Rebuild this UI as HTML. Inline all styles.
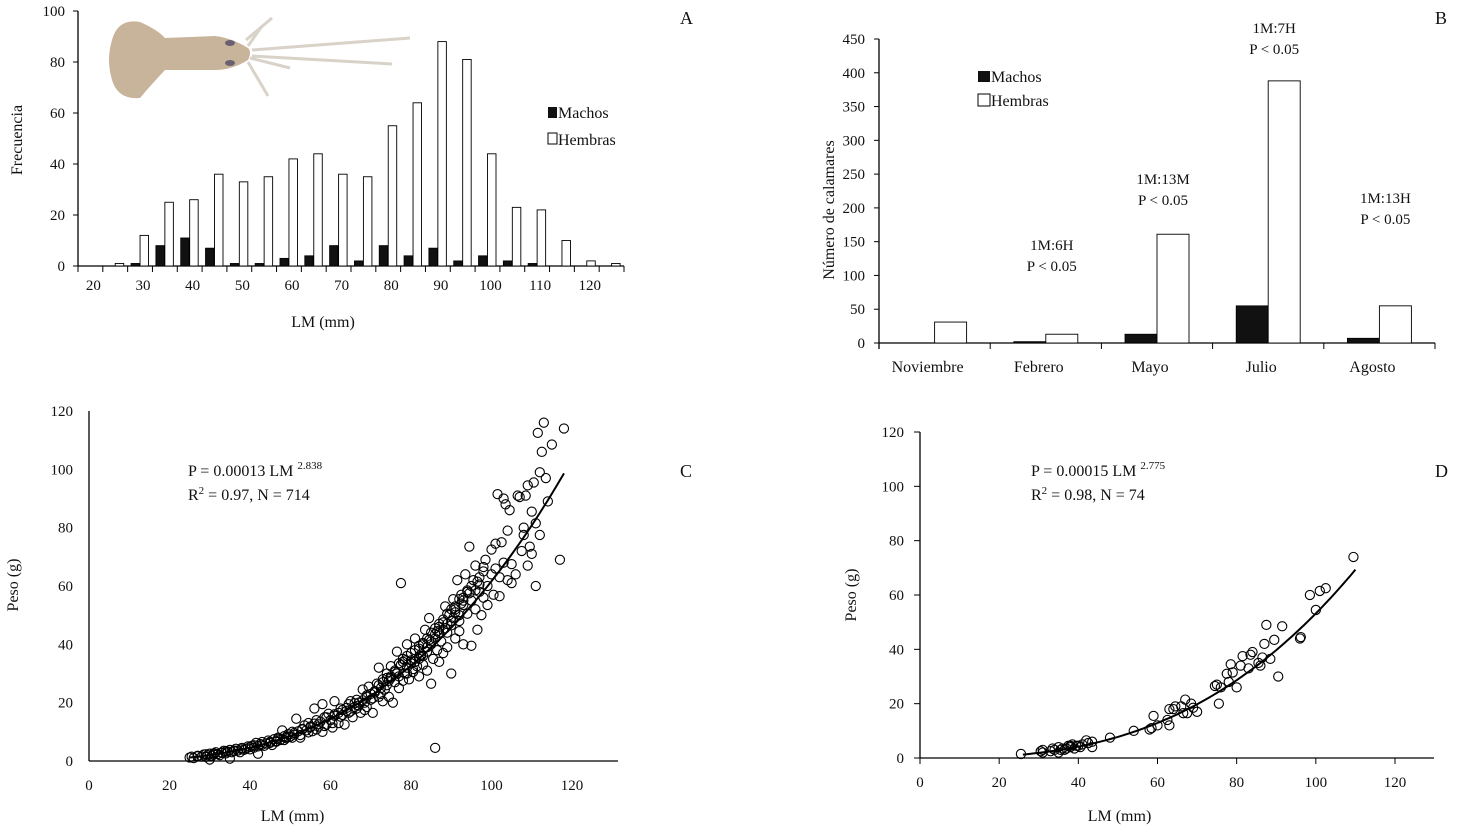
<!DOCTYPE html>
<html><head><meta charset="utf-8"><style>
html,body{margin:0;padding:0;background:#fff;}
svg{display:block;font-family:"Liberation Serif",serif;}
text{fill:#111;}
</style></head><body>
<svg id="fig" width="1462" height="836" viewBox="0 0 1462 836" xmlns="http://www.w3.org/2000/svg">
<g id="pA"></g>
<g id="pB"></g>
<g id="pC"></g>
<g id="pD"></g>
<g>
 <path d="M246,40 L272,18 M248,46 L262,26 M250,58 L290,68 M248,62 L268,96 M252,50 L410,38 M252,56 L392,64" stroke="#d9d2c8" stroke-width="3" fill="none"/>
 <path d="M112,40 Q118,18 140,22 Q158,30 165,38 L215,36 Q232,38 248,48 Q252,52 248,60 Q232,70 215,70 L165,70 Q150,86 140,98 Q118,100 112,80 Q106,60 112,40 Z" fill="#c8b39b"/>
 <ellipse cx="230" cy="43" rx="5" ry="3" fill="#6a6070"/>
 <ellipse cx="230" cy="63" rx="5" ry="3" fill="#6a6070"/>
</g>
</svg>
<script>
const NS='http://www.w3.org/2000/svg';
function el(parent,tag,attrs,txt){const e=document.createElementNS(NS,tag);for(const k in attrs)e.setAttribute(k,attrs[k]);if(txt!==undefined)e.textContent=txt;parent.appendChild(e);return e;}

// ---------- Panel A data ----------
const binsA=[20,25,30,35,40,45,50,55,60,65,70,75,80,85,90,95,100,105,110,115,120,125];
const machosA=[0,0,1,8,11,7,1,1,3,4,8,2,8,4,7,2,4,2,1,0,0,0];
const hembrasA=[0,1,12,25,26,36,33,35,42,44,36,35,55,64,88,81,44,23,22,10,2,1];
const yTicksA=[0,20,40,60,80,100];
const xLabelsA=[20,30,40,50,60,70,80,90,100,110,120];

// ---------- Panel B data ----------
const mesesB=['Noviembre','Febrero','Mayo','Julio','Agosto'];
const machosB=[0,2,13,55,7];
const hembrasB=[31,13,161,388,55];
const yTicksB=[0,50,100,150,200,250,300,350,400,450];
const notesB=[null,['1M:6H','P < 0.05'],['1M:13M','P < 0.05'],['1M:7H','P < 0.05'],['1M:13H','P < 0.05']];
const noteYB=[0,250,184,33,203];

// ---------- Panel C data ----------
const lmC=[25,25.5,26,27,28,28.5,29,29.5,30,30,30.5,31,31.5,32,32.5,33,33.5,34,34.5,35,35,35.5,36,36.5,37,37.5,38,38.5,39,39.5,40,40.5,41,41.5,42,42,42.5,43,43.5,44,44.5,45,45.5,46,46.5,47,47.5,48,48.5,49,49.5,50,50.5,51,51.5,52,52.5,53,53.5,54,54.5,55,55.5,56,56,56.5,57,57.5,58,58,58.5,59,59.5,60,60.5,61,61,62,62,62.5,63,63.5,64,64.5,65,65,65.5,66,66.5,67,67.5,68,68,68.5,69,69,69.5,70,70.5,71,71.5,72,72,72.5,73,73,73.5,74,74,74.5,75,75,75.5,76,76,76.5,77,77,77.5,77.5,78,78,78.5,79,79,79.5,80,80,80.5,81,81,81.5,82,82,82.5,83,83,83.5,84,84,84.5,85,85,85.5,86,86,86.5,87,87,87.5,88,88,88.5,89,89,89.5,90,90,90.5,91,91,91.5,92,92,92.5,93,93,93.5,94,94,94.5,95,95,95.5,96,96,96.5,97,97,97.5,98,98,98.5,99,99,100,100,100.5,101,101,101.5,102,102,102.5,103,103,103.5,104,104,104.5,105,105,106,106.5,107,107.5,108,108,108.5,109,109,109.5,110,110,110.5,111,111,111.5,112,112,112.5,113,113.5,114,115,117,118,
 82,84,86,88,90,92,83,85,87,89,91,93,79,81,
 27,29,31,33,34,36,38,40,41,43,45,47,49,51,53,55,57,59,61,63,64,66,67,69,70,71,72,73,74,75,76,77,78,79,80,81,82,83,84,85,86,87,88,89,90,91,92,93,94,95,96,97,98,80.5,82.5,84.5,86.5,88.5,90.5,92.5,94.5,96.5,76.5,78.5,74.5,72.5,70.5,68.5,66.5,64.5,62.5,60.5,58.5,56.5,54.5,52.5,50.5,48.5,46.5];
const pesoC=[1.2,1.5,1.0,1.8,1.5,2.2,1.4,2.0,0.5,2.5,1.8,2.2,3.0,2.4,2.0,2.8,3.5,2.6,3.2,0.8,3.8,3.0,3.4,4.2,3.6,3.0,4.5,3.8,4.2,5.0,4.0,5.2,4.6,6.2,5.0,2.5,5.8,6.5,5.2,6.0,7.0,6.2,5.5,7.5,6.8,8.0,7.2,10.5,8.5,7.8,9.2,8.4,10.0,9.0,14.5,10.2,8.0,11.0,12.2,10.5,13.0,11.5,10.2,18.0,12.8,14.0,11.8,13.5,19.5,10.0,15.0,12.5,16.2,14.0,11.5,15.5,20.5,16.5,13.0,18.0,15.8,12.5,17.2,19.5,17.0,20.5,15.0,18.5,21.0,19.0,16.5,20.8,24.5,17.5,22.5,18.5,25.5,21.0,16.5,23.5,26.5,32.0,22.0,25.0,28.0,20.5,24.5,30.0,26.0,22.0,28.5,32.5,20.0,27.0,30.5,37.5,25.0,29.0,61.0,33.0,27.5,35.0,30.0,40.0,32.0,28.0,33.5,37.0,30.5,35.0,42.0,32.5,38.5,29.0,36.0,40.5,33.0,45.0,37.5,31.0,49.0,40.0,26.5,35.0,43.5,4.5,38.0,46.0,34.0,41.0,48.5,37.0,53.0,44.0,39.0,50.0,46.5,30.0,55.5,42.0,51.0,62.0,48.0,44.5,57.0,53.5,40.0,64.0,50.5,58.5,73.5,55.0,39.5,62.0,52.0,67.0,45.0,58.0,60.5,50.0,65.0,56.0,69.0,60.0,53.5,64.0,72.5,57.0,74.5,66.0,91.5,63.0,56.5,75.0,90.0,68.0,88.0,62.0,79.0,86.0,67.5,61.0,64.0,91.0,90.5,72.0,80.0,77.5,91.0,67.0,94.5,73.5,85.5,71.0,95.5,81.5,60.0,112.5,99.0,77.5,106.0,116.0,97.0,89.0,108.5,69.0,114.0,
 35,39,42,45,48,50,36,41,44,47,52,55,30,34,
 1.6,2.3,2.6,2.9,3.3,3.6,4.0,4.8,5.4,5.6,6.6,7.6,8.2,9.6,10.8,11.8,12.6,15.0,16.0,17.5,18.2,19.8,20.0,22.0,23.0,24.0,26.0,27.0,28.5,29.0,31.0,33.5,34.0,36.0,34.5,38.0,39.5,40.0,42.0,44.0,45.5,47.0,47.5,50.5,52.0,53.0,55.5,56.0,58.0,60.0,58.5,63.0,66.5,31.5,36.5,41.5,44.5,45.5,49.0,54.0,57.5,61.5,30.0,34.5,27.5,23.0,21.5,20.0,18.0,16.5,15.2,13.0,12.0,10.8,9.8,8.9,8.0,7.2,6.6];
const xTicksCD=[0,20,40,60,80,100,120];
const yTicksCD=[0,20,40,60,80,100,120];
const fitC=[0.00013,2.838,25,118];

// ---------- Panel D data ----------
const lmD=[25.5,30.5,31,31,33,33.5,34,35,35,35.5,36,37,37.5,38,38.5,39,39.5,40.5,41,42,42.5,43.5,43.5,48,54,58,58.5,59,63,63,64,64.5,66,66.5,67,67.5,68.5,69,70,74.5,75,75.5,77.5,78,78.5,79,80,81,81.5,83.5,84,85.5,86,86.5,87,87.5,88.5,89.5,90.5,91.5,96,96.2,98.5,100,101,102.5,109.5,36.5,38,40,60,62.5,76,83];
const pesoD=[1.5,2.5,2.0,3.0,2.5,3.5,3.0,2.0,4.0,3.0,3.5,3.5,4.5,4.5,5.0,3.5,4.5,4.0,5.0,6.5,5.5,4.0,6.0,7.5,10.0,10.5,11.0,15.5,12.0,18.0,18.0,19.0,19.0,16.5,21.5,16.5,20.0,18.5,17.0,26.5,27.0,20.0,31.0,28.0,34.5,31.5,26.0,34.0,37.5,38.0,39.0,35.0,34.0,37.0,42.0,49.0,36.5,43.5,30.0,48.5,44.0,44.5,60.0,54.5,61.5,62.5,74.0,3.0,4.0,4.5,12,14,26,33];
const fitD=[0.00015,2.775,26,110];

const TXT=15;

// ===== Panel A =====
(function(){
 const g=document.getElementById('pA');
 const x0=78,x1=624,y0=266,yTop=11;
 const cw=(x1-x0)/binsA.length;
 const ys=v=>y0-(v/100)*(y0-yTop);
 let a=el(g,'line',{x1:x0,y1:yTop,x2:x0,y2:y0,stroke:'#000','stroke-width':1.3});
 
 a=el(g,'line',{x1:x0,y1:y0,x2:x1,y2:y0,stroke:'#000','stroke-width':1.3});
 
 yTicksA.forEach(t=>{const y=ys(t);el(g,'line',{x1:x0-5,y1:y,x2:x0,y2:y,stroke:'#000'});
  const tx=el(g,'text',{x:x0-13,y:y+5,'text-anchor':'end','font-size':TXT},t);
  });
 for(let i=0;i<=binsA.length;i++){const x=x0+i*cw;el(g,'line',{x1:x,y1:y0,x2:x,y2:y0+6,stroke:'#000'});}
 binsA.forEach((b,i)=>{const c=x0+cw*(i+0.5);
  let r=el(g,'rect',{x:c-9,y:ys(machosA[i]),width:8.5,height:y0-ys(machosA[i]),fill:'#111',stroke:'#000','stroke-width':0.8});
  
  r=el(g,'rect',{x:c,y:ys(hembrasA[i]),width:8.5,height:y0-ys(hembrasA[i]),fill:'#fff',stroke:'#000','stroke-width':0.9});
  
  if(xLabelsA.indexOf(b)>=0){const t=el(g,'text',{x:c+3,y:290,'text-anchor':'middle','font-size':TXT},b);
   }
 });
 let t=el(g,'text',{x:323,y:327,'text-anchor':'middle','font-size':16},'LM (mm)');
 
 t=el(g,'text',{x:0,y:0,'text-anchor':'middle','font-size':16,transform:'translate(22,140) rotate(-90)'},'Frecuencia');
 
 t=el(g,'text',{x:680,y:24,'font-size':18},'A');
 
 const lg=el(g,'g',{});
 el(lg,'rect',{x:548,y:107,width:9,height:11,fill:'#111'});
 el(lg,'text',{x:558,y:118,'font-size':16},'Machos');
 el(lg,'rect',{x:548,y:133,width:9,height:11,fill:'#fff',stroke:'#000'});
 el(lg,'text',{x:558,y:145,'font-size':16},'Hembras');
})();

// ===== Panel B =====
(function(){
 const g=document.getElementById('pB');
 const x0=879,x1=1435,y0=343,yTop=39;
 const cw=(x1-x0)/mesesB.length;
 const ys=v=>y0-(v/450)*(y0-yTop);
 let a=el(g,'line',{x1:x0,y1:yTop,x2:x0,y2:y0+6,stroke:'#000','stroke-width':1.3});
 
 a=el(g,'line',{x1:x0,y1:y0,x2:x1,y2:y0,stroke:'#000','stroke-width':1.3});
 
 yTicksB.forEach(t=>{const y=ys(t);el(g,'line',{x1:x0-5,y1:y,x2:x0,y2:y,stroke:'#000'});
  const tx=el(g,'text',{x:x0-14,y:y+5,'text-anchor':'end','font-size':TXT},t);
  });
 for(let i=0;i<=mesesB.length;i++){const x=x0+i*cw;el(g,'line',{x1:x,y1:y0,x2:x,y2:y0+6,stroke:'#000'});}
 mesesB.forEach((m,i)=>{const c=x0+cw*(i+0.5);
  let r=el(g,'rect',{x:c-32,y:ys(machosB[i]),width:32,height:y0-ys(machosB[i]),fill:'#111',stroke:'#000','stroke-width':0.8});
  
  r=el(g,'rect',{x:c,y:ys(hembrasB[i]),width:32,height:y0-ys(hembrasB[i]),fill:'#fff',stroke:'#000','stroke-width':0.9});
  
  let t=el(g,'text',{x:c-7,y:372,'text-anchor':'middle','font-size':16},m);
  
  if(notesB[i]){const ny=noteYB[i];
   t=el(g,'text',{x:c+6,y:ny,'text-anchor':'middle','font-size':15},notesB[i][0]);
   
   t=el(g,'text',{x:c+6,y:ny+21,'text-anchor':'middle','font-size':15},notesB[i][1]);
   }
 });
 let t=el(g,'text',{x:0,y:0,'text-anchor':'middle','font-size':16,transform:'translate(834,210) rotate(-90)'},'Número de calamares');
 
 t=el(g,'text',{x:1435,y:24,'font-size':18},'B');
 
 const lg=el(g,'g',{});
 el(lg,'rect',{x:978,y:71,width:12,height:11,fill:'#111'});
 el(lg,'text',{x:991,y:82,'font-size':16},'Machos');
 el(lg,'rect',{x:978,y:94,width:12,height:12,fill:'#fff',stroke:'#000'});
 el(lg,'text',{x:991,y:106,'font-size':16},'Hembras');
})();

// ===== Scatter panels =====
function scatter(g,o){
 const xs=v=>o.x0+v*(o.x1-o.x0)/120;
 const ys=v=>o.y0-v*(o.y0-o.yTop)/120;
 let a=el(g,'line',{x1:o.x0,y1:o.yTop,x2:o.x0,y2:o.y0,stroke:'#000','stroke-width':1.3});
 
 a=el(g,'line',{x1:o.x0,y1:o.y0,x2:o.xEnd,y2:o.y0,stroke:'#000','stroke-width':1.3});
 
 yTicksCD.forEach(t=>{const y=ys(t);if(o.ticks)el(g,'line',{x1:o.x0-6,y1:y,x2:o.x0,y2:y,stroke:'#000'});
  const tx=el(g,'text',{x:o.x0-16,y:y+5,'text-anchor':'end','font-size':TXT},t);
  });
 xTicksCD.forEach(t=>{const x=xs(t);if(o.ticks)el(g,'line',{x1:x,y1:o.y0,x2:x,y2:o.y0+6,stroke:'#000'});
  const tx=el(g,'text',{x:x,y:o.y0+29,'text-anchor':'middle','font-size':TXT},t);
  });
 const pts=el(g,'g',{fill:'none',stroke:'#000','stroke-width':1.1});
 
 o.lm.forEach((v,i)=>{const c=el(pts,'circle',{cx:xs(v),cy:ys(o.peso[i]),r:4.6});
  });
 let d='';for(let L=o.fit[2];L<=o.fit[3]+0.01;L+=1){const P=o.fit[0]*Math.pow(L,o.fit[1]);d+=(d?'L':'M')+xs(L).toFixed(1)+','+ys(P).toFixed(1);}
 const p=el(g,'path',{d:d,fill:'none',stroke:'#000','stroke-width':2});
 
 let t=el(g,'text',{x:(o.x0+o.x1)/2-38,y:821,'text-anchor':'middle','font-size':16},'LM (mm)');
 
 t=el(g,'text',{x:0,y:0,'text-anchor':'middle','font-size':16,transform:'translate('+o.ylx+','+o.yly+') rotate(-90)'},'Peso (g)');
 
 t=el(g,'text',{x:o.ex,y:476,'font-size':16});
 
 t.appendChild(document.createTextNode(o.eq+' LM '));
 el(t,'tspan',{dy:-7,'font-size':11},o.exp);
 t=el(g,'text',{x:o.ex,y:500,'font-size':16});
 
 t.appendChild(document.createTextNode('R'));el(t,'tspan',{dy:-6,'font-size':11},'2');
 el(t,'tspan',{dy:6},' = '+o.r2);
 t=el(g,'text',{x:o.lab,y:477,'font-size':18},o.id.toUpperCase());
 
}
scatter(document.getElementById('pC'),{id:'c',x0:89,x1:572,xEnd:618,y0:761,yTop:411,ticks:false,lm:lmC,peso:pesoC,fit:fitC,ylx:18,yly:585,ex:188,eq:'P = 0.00013',exp:'2.838',r2:'0.97, N = 714',lab:680});
scatter(document.getElementById('pD'),{id:'d',x0:920,x1:1395,xEnd:1434,y0:758,yTop:432,ticks:true,lm:lmD,peso:pesoD,fit:fitD,ylx:856,yly:595,ex:1031,eq:'P = 0.00015',exp:'2.775',r2:'0.98, N = 74',lab:1435});
</script>
</body></html>
